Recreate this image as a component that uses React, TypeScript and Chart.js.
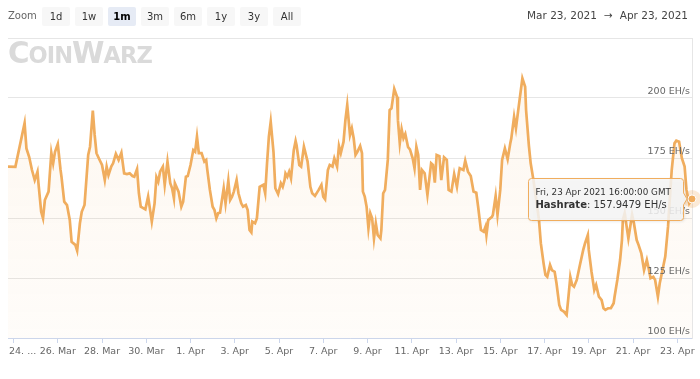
import { useEffect, useRef } from "react";
import { Chart, registerables } from "chart.js";

Chart.register(...registerables);

// Hours since 2021-03-23 00:00 GMT
const hoursSinceMar23 = [
  18, 26, 36, 38, 41, 44, 47, 50, 51, 54, 56, 58, 62, 65, 67, 69, 72, 75, 76, 79,
  82, 85, 87, 91, 93, 96, 98, 101, 105, 107, 110, 112, 114, 117, 120, 123, 125, 127, 130, 132,
  135, 138, 141, 144, 147, 150, 153, 155, 158, 160, 162, 167, 170, 174, 177, 179, 181, 183, 186, 188,
  191, 194, 196, 198, 199, 203, 206, 208, 211, 213, 216, 219, 221, 223, 225, 228, 231, 233, 234, 237,
  240, 242, 244, 246, 248, 252, 254, 257, 259, 261, 263, 266, 268, 271, 273, 276, 278, 280, 282, 283,
  286, 288, 291, 295, 297, 299, 301, 303, 306, 308, 311, 314, 316, 318, 319, 321, 323, 325, 328, 330,
  331, 334, 336, 339, 343, 346, 348, 351, 355, 358, 360, 362, 365, 367, 370, 372, 375, 377, 379, 382,
  384, 386, 389, 391, 393, 395, 397, 400, 402, 403, 405, 407, 409, 411, 413, 415, 417, 419, 422, 423,
  425, 427, 430, 432, 434, 437, 440, 441, 443, 445, 447, 449, 452, 454, 457, 459, 461, 463, 465, 467,
  470, 473, 477, 479, 481, 483, 486, 488, 491, 494, 496, 499, 502, 505, 507, 508, 512, 514, 517, 520,
  523, 526, 528, 531, 534, 536, 537, 539, 543, 544, 547, 549, 552, 554, 557, 560, 563, 564, 567, 569,
  572, 576, 579, 580, 583, 585, 588, 594, 596, 599, 601, 603, 606, 608, 611, 613, 616, 618, 621, 624,
  626, 628, 630, 632, 635, 638, 642, 644, 647, 648, 651, 654, 656, 659, 662, 664, 666, 669, 672, 675,
  676, 679, 682, 684, 685, 687, 691, 693, 695, 697, 700, 702, 705, 708, 711, 713, 715, 718, 720, 723,
  725, 728, 731, 734, 738, 741, 743, 746, 749, 752, 754, 757, 760,
];

// Hashrate, EH/s
const hashrate = [
  171.4, 171.3, 189.5, 179.0, 175.4, 170.0, 165.8, 169.3, 164.6, 152.6, 149.9, 157.5, 161.0, 177.2, 172.8, 177.6, 180.8, 170.0, 167.2, 156.8,
  155.4, 149.2, 140.1, 138.8, 136.4, 147.8, 152.6, 155.4, 176.3, 179.7, 194.7, 184.6, 177.0, 174.5, 172.1, 165.8, 171.4, 167.9, 171.4, 172.8,
  176.7, 174.2, 177.2, 168.6, 168.3, 168.6, 167.5, 167.2, 170.4, 160.3, 154.7, 153.6, 158.9, 148.5, 156.1, 167.0, 165.1, 169.3, 171.4, 163.8,
  173.5, 164.5, 162.4, 158.2, 164.5, 161.0, 154.7, 156.8, 167.2, 167.5, 172.1, 178.3, 177.6, 183.9, 177.0, 177.0, 173.5, 174.2, 170.7, 161.7,
  154.7, 153.3, 149.9, 152.0, 152.2, 162.4, 156.1, 165.5, 157.5, 158.9, 161.0, 165.8, 160.3, 156.1, 154.7, 155.4, 153.3, 145.0, 144.0, 148.5,
  147.8, 149.9, 163.0, 163.8, 160.3, 172.8, 183.9, 190.1, 177.6, 162.4, 160.0, 164.5, 163.0, 165.8, 168.6, 167.2, 169.3, 166.5, 178.3, 182.1,
  180.4, 172.1, 171.4, 179.7, 173.5, 163.0, 160.3, 159.2, 161.7, 163.8, 158.9, 157.8, 170.0, 172.1, 171.4, 174.9, 171.4, 180.0, 177.0, 181.8,
  190.8, 197.1, 184.6, 187.4, 183.2, 176.3, 177.6, 180.0, 177.0, 161.0, 158.9, 154.7, 145.7, 152.0, 149.9, 141.5, 147.8, 142.9, 141.5, 145.0,
  160.3, 161.7, 174.2, 195.0, 195.7, 203.8, 200.5, 190.8, 181.1, 187.0, 183.2, 185.0, 179.5, 178.6, 174.9, 170.7, 179.7, 176.3, 161.7, 170.0,
  168.6, 159.6, 172.8, 172.1, 164.7, 176.3, 175.8, 165.8, 175.3, 174.2, 161.7, 161.0, 168.3, 163.0, 168.6, 170.7, 170.0, 173.9, 169.3, 167.5,
  161.0, 160.5, 154.7, 145.0, 144.3, 146.4, 142.9, 149.2, 150.5, 151.3, 159.2, 151.3, 161.7, 174.2, 179.0, 174.5, 181.4, 183.2, 192.2, 187.4,
  196.4, 208.2, 204.7, 195.0, 180.4, 172.8, 165.8, 149.2, 139.5, 131.1, 126.3, 125.5, 130.4, 128.3, 127.6, 122.8, 113.8, 111.7, 111.0, 109.6,
  117.2, 125.5, 122.1, 121.4, 124.2, 129.7, 136.7, 139.5, 142.9, 136.7, 127.6, 120.0, 122.1, 117.2, 115.8, 112.4, 111.7, 112.4, 112.4, 114.5,
  117.2, 124.2, 132.5, 140.8, 149.2, 152.0, 141.5, 146.4, 151.3, 147.8, 140.8, 138.8, 135.3, 128.3, 132.5, 129.0, 124.9, 125.5, 124.2, 117.2,
  122.8, 128.3, 133.9, 146.4, 170.0, 181.1, 182.2, 181.8, 174.9, 171.4, 161.7, 156.1, 157.9479,
];

const xTickHours = [24, 72, 120, 168, 216, 264, 312, 360, 408, 456, 504, 552, 600, 648, 696, 744];
const xTickLabels = [
  "24. ...", "26. Mar", "28. Mar", "30. Mar", "1. Apr", "3. Apr", "5. Apr", "7. Apr",
  "9. Apr", "11. Apr", "13. Apr", "15. Apr", "17. Apr", "19. Apr", "21. Apr", "23. Apr",
];
const yTickValues = [100, 125, 150, 175, 200, 225];
const yTickLabels = ["100 EH/s", "125 EH/s", "150 EH/s", "175 EH/s", "200 EH/s", ""];

const zoomButtons = ["1d", "1w", "1m", "3m", "6m", "1y", "3y", "All"];
const selectedZoom = "1m";
const rangeFrom = "Mar 23, 2021";
const rangeTo = "Apr 23, 2021";
const seriesName = "Hashrate";
const unit = "EH/s";

const LINE = "#f0ad5e";
const FONT = '"DejaVu Sans", Verdana, sans-serif';

const overlayPlugin = {
  id: "overlay",
  afterDatasetsDraw(chart: any) {
    const ctx: CanvasRenderingContext2D = chart.ctx;
    const { left, right, bottom } = chart.chartArea;
    const xs = chart.scales.x;
    const ys = chart.scales.y;
    ctx.save();
    ctx.font = `9.5px ${FONT}`;
    ctx.fillStyle = "#666666";
    ctx.textBaseline = "middle";
    ctx.textAlign = "right";
    yTickValues.forEach((v, i) => {
      if (!yTickLabels[i]) return;
      ctx.fillText(yTickLabels[i], right - 2, ys.getPixelForValue(v) - 6);
    });
    ctx.textAlign = "center";
    xTickHours.forEach((h, i) => {
      const w = ctx.measureText(xTickLabels[i]).width;
      let x = xs.getPixelForValue(h);
      x = Math.max(x, left + w / 2 + 1);
      ctx.fillText(xTickLabels[i], x, bottom + 14);
    });

    // hovered point
    const meta = chart.getDatasetMeta(0);
    const idx = meta.data.length - 1;
    const pt = meta.data[idx];
    ctx.beginPath();
    ctx.arc(pt.x, pt.y, 9, 0, Math.PI * 2);
    ctx.fillStyle = "rgba(240,173,94,0.25)";
    ctx.fill();
    ctx.beginPath();
    ctx.arc(pt.x, pt.y, 4, 0, Math.PI * 2);
    ctx.fillStyle = LINE;
    ctx.fill();
    ctx.lineWidth = 1;
    ctx.strokeStyle = "#ffffff";
    ctx.stroke();

    // tooltip
    const bw = 155;
    const bh = 42;
    const bx = Math.round(pt.x - 9 - bw) + 0.5;
    const by = Math.round(pt.y - bh / 2) + 0.5;
    const r = 3;
    const cy = pt.y;
    ctx.beginPath();
    ctx.moveTo(bx + r, by);
    ctx.lineTo(bx + bw - r, by);
    ctx.quadraticCurveTo(bx + bw, by, bx + bw, by + r);
    ctx.lineTo(bx + bw, cy - 6);
    ctx.lineTo(pt.x - 5, cy);
    ctx.lineTo(bx + bw, cy + 6);
    ctx.lineTo(bx + bw, by + bh - r);
    ctx.quadraticCurveTo(bx + bw, by + bh, bx + bw - r, by + bh);
    ctx.lineTo(bx + r, by + bh);
    ctx.quadraticCurveTo(bx, by + bh, bx, by + bh - r);
    ctx.lineTo(bx, by + r);
    ctx.quadraticCurveTo(bx, by, bx + r, by);
    ctx.closePath();
    ctx.save();
    ctx.shadowColor = "rgba(0,0,0,0.12)";
    ctx.shadowBlur = 3;
    ctx.shadowOffsetX = 1;
    ctx.shadowOffsetY = 1;
    ctx.fillStyle = "rgba(247,247,247,0.85)";
    ctx.fill();
    ctx.restore();
    ctx.strokeStyle = LINE;
    ctx.lineWidth = 1;
    ctx.stroke();

    const t = hoursSinceMar23[idx];
    const d = new Date(Date.UTC(2021, 2, 23) + t * 3600 * 1000);
    ctx.textAlign = "left";
    ctx.textBaseline = "middle";
    ctx.fillStyle = "#333333";
    ctx.font = `8.8px ${FONT}`;
    ctx.fillText(d.toUTCString(), bx + 7, by + 14);
    ctx.font = `bold 10px ${FONT}`;
    const label = seriesName;
    ctx.fillText(label, bx + 7, by + 27);
    const lw = ctx.measureText(label).width;
    ctx.font = `10px ${FONT}`;
    ctx.fillText(`: ${hashrate[idx]} ${unit}`, bx + 7 + lw, by + 27);
    ctx.restore();
  },
};

export default function App() {
  const canvasRef = useRef<HTMLCanvasElement | null>(null);

  useEffect(() => {
    if (!canvasRef.current) return;
    const points = hoursSinceMar23.map((h, i) => ({ x: h, y: hashrate[i] }));
    const chart = new Chart(canvasRef.current, {
      type: "line",
      data: {
        datasets: [
          {
            label: seriesName,
            data: points,
            borderColor: LINE,
            borderWidth: 2.7,
            pointRadius: 0,
            pointHoverRadius: 0,
            tension: 0,
            fill: "start",
            backgroundColor: (c: any) => {
              const area = c.chart.chartArea;
              if (!area) return "rgba(240,173,94,0.05)";
              const g = c.chart.ctx.createLinearGradient(0, area.top, 0, area.bottom);
              g.addColorStop(0, "rgba(240,173,94,0.1)");
              g.addColorStop(1, "rgba(240,173,94,0.035)");
              return g;
            },
          },
        ],
      },
      options: {
        animation: false,
        responsive: true,
        maintainAspectRatio: false,
        events: [],
        layout: { padding: { left: 8, right: 8, top: 38, bottom: 36 } },
        plugins: { legend: { display: false }, tooltip: { enabled: false } },
        scales: {
          x: {
            type: "linear",
            min: hoursSinceMar23[0],
            max: hoursSinceMar23[hoursSinceMar23.length - 1],
            afterBuildTicks: (s: any) => {
              s.ticks = xTickHours.map((v) => ({ value: v }));
            },
            ticks: { display: false },
            grid: {
              display: true,
              drawOnChartArea: false,
              drawTicks: true,
              tickLength: 5,
              color: "#ccd6eb",
              tickColor: "#ccd6eb",
            },
            border: { display: true, color: "#ccd6eb" },
          },
          y: {
            position: "right",
            min: 100,
            max: 225,
            afterBuildTicks: (s: any) => {
              s.ticks = yTickValues.map((v) => ({ value: v }));
            },
            ticks: { display: false },
            grid: { color: "#e6e6e6", drawTicks: false },
            border: { display: true, color: "#e6e6e6" },
          },
        },
      },
      plugins: [overlayPlugin],
    } as any);
    return () => chart.destroy();
  }, []);

  return (
    <div
      style={{
        position: "fixed",
        left: 0,
        top: 0,
        width: 700,
        height: 379,
        background: "#ffffff",
        fontFamily: FONT,
        overflow: "hidden",
      }}
    >
      <div style={{ position: "absolute", left: 0, top: 0, width: 700, height: 379 }}>
        <canvas ref={canvasRef} />
      </div>
      <div
        style={{
          position: "absolute",
          left: 8,
          top: 9,
          fontSize: 10,
          color: "#666666",
          lineHeight: "14px",
        }}
      >
        Zoom
      </div>
      {zoomButtons.map((b, i) => (
        <div
          key={b}
          style={{
            position: "absolute",
            left: 42 + i * 33,
            top: 7,
            width: 28,
            height: 19,
            lineHeight: "19px",
            textAlign: "center",
            fontSize: 10,
            borderRadius: 2,
            background: b === selectedZoom ? "#e6ebf5" : "#f7f7f7",
            color: b === selectedZoom ? "#000000" : "#333333",
            fontWeight: b === selectedZoom ? "bold" : "normal",
          }}
        >
          {b}
        </div>
      ))}
      <div
        style={{
          position: "absolute",
          right: 12,
          top: 8,
          fontSize: 10.5,
          color: "#444444",
          lineHeight: "15px",
          whiteSpace: "pre",
        }}
      >
        {rangeFrom}
        <span style={{ margin: "0 7px" }}>→</span>
        {rangeTo}
      </div>
      <div
        style={{
          position: "absolute",
          left: 8,
          top: 36,
          color: "#dadada",
          fontWeight: "bold",
          whiteSpace: "pre",
          transform: "scaleX(0.98)",
          transformOrigin: "left top",
          lineHeight: "34px",
          letterSpacing: -1,
        }}
      >
        <span style={{ fontSize: 30 }}>C</span>
        <span style={{ fontSize: 23 }}>OIN</span>
        <span style={{ fontSize: 30 }}>W</span>
        <span style={{ fontSize: 23 }}>ARZ</span>
      </div>
    </div>
  );
}
